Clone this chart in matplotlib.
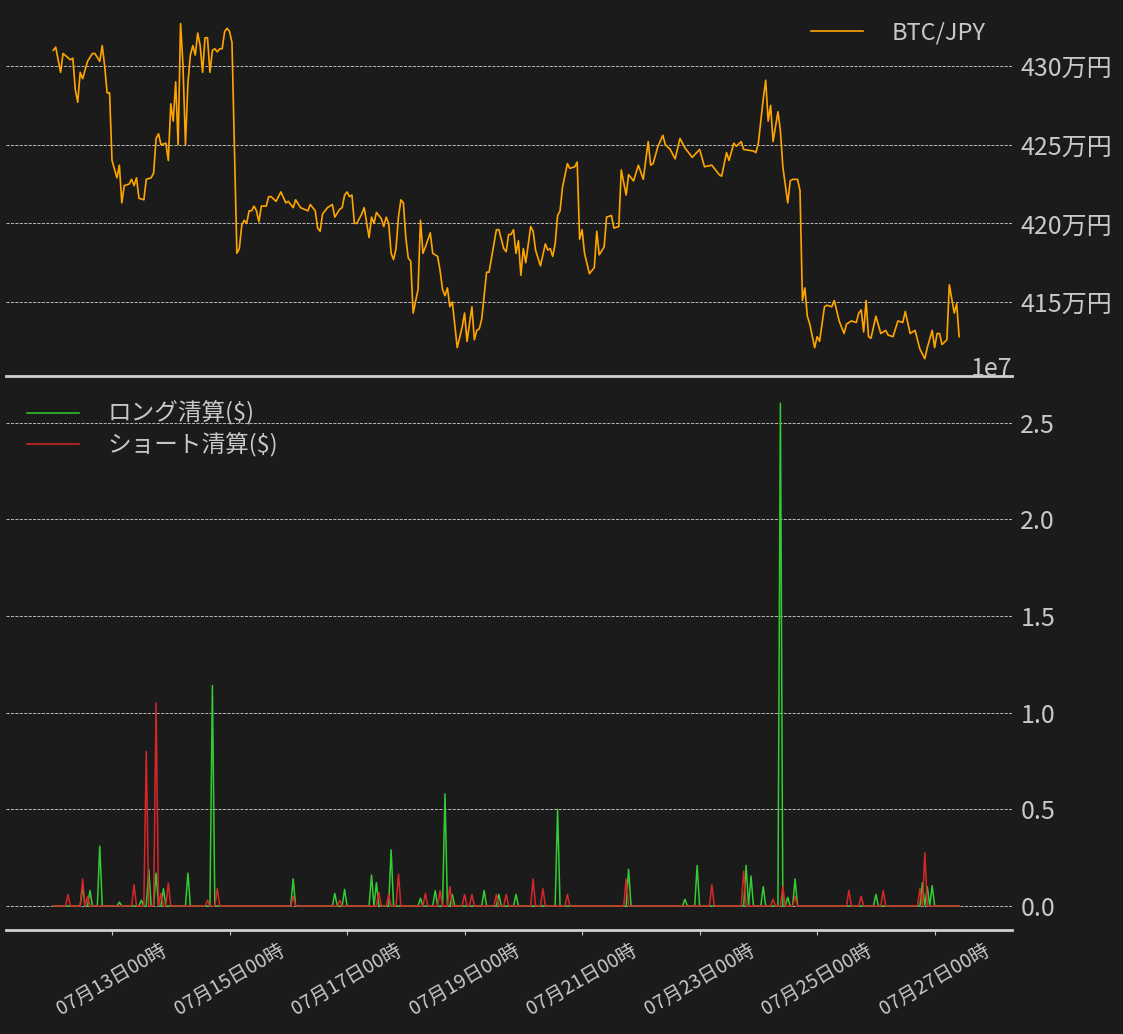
import datetime as dt
import numpy as np
import matplotlib
matplotlib.use('Agg')
import matplotlib.pyplot as plt
import matplotlib.dates as mdates
from matplotlib.ticker import FuncFormatter

plt.rcParams['font.family'] = ['Noto Sans CJK JP', 'DejaVu Sans']

base = dt.datetime(2023, 7, 13, 0, 0)

# BTC/JPY price: hours from 07/13 00:00, price in 万円
price_hours = [-24, -23, -21, -20, -17, -16, -15, -14, -13, -12, -10, -8, -7, -5, -4, -3, -2, -1,
               0, 2, 3, 4, 5, 7, 8, 9, 10, 11, 13, 14, 16, 17, 18, 19, 20, 22, 23, 24, 25, 26, 27,
               28, 29, 30, 31, 32, 33, 34, 35, 36, 37, 38, 39, 40, 41, 42, 43, 44, 45, 46, 47, 48,
               49, 50, 51, 52, 53, 54, 55, 56, 57, 58, 59, 60, 61, 63, 64, 65, 67, 69, 71, 72, 74,
               75, 77, 80, 81, 82, 83, 84, 85, 86, 88, 90, 91, 93, 94, 95, 96, 97, 98, 99, 100, 102,
               103, 105, 106, 107, 108, 110, 111, 112, 113, 114, 115, 116, 117, 118, 119, 120, 121,
               122, 123, 125, 126, 127, 128, 130, 131, 133, 134, 135, 136, 137, 138, 139, 141, 143,
               144, 145, 147, 148, 149, 150, 151, 153, 154, 157, 158, 160, 161, 162, 163, 164, 165,
               166, 167, 168, 169, 171, 172, 173, 175, 177, 178, 179, 180, 181, 182, 183, 184, 186,
               187, 189, 190, 191, 192, 193, 195, 197, 198, 199, 201, 202, 204, 205, 207, 208, 210,
               211, 213, 215, 217, 219, 220, 221, 223, 225, 226, 228, 230, 232, 234, 237, 240, 242,
               245, 248, 249, 251, 252, 254, 255, 257, 258, 262, 263, 264, 266, 267, 268, 269, 270,
               272, 273, 274, 276, 277, 278, 280, 281, 282, 283, 284, 285, 287, 288, 289, 291, 292,
               294, 295, 297, 299, 300, 302, 304, 305, 306, 307, 308, 309, 310, 312, 314, 316, 317,
               319, 321, 323, 324, 326, 328, 330, 332, 333, 335, 336, 337, 338, 339, 341, 342, 344,
               345, 346]
price_man = [431.0, 431.2, 429.6, 430.8, 430.4, 430.5, 428.5, 427.7, 429.6, 429.2, 430.3, 430.8,
             430.8, 430.3, 431.3, 430.0, 428.3, 428.3, 424.0, 422.9, 423.7, 421.3, 422.4, 422.5,
             422.8, 422.4, 422.9, 421.6, 421.5, 422.8, 422.9, 423.2, 425.4, 425.7, 425.0, 425.1,
             424.0, 427.6, 426.5, 429.0, 425.0, 432.7, 430.0, 425.0, 428.9, 430.7, 431.3, 430.7,
             432.1, 431.3, 429.6, 431.8, 431.8, 429.6, 431.0, 431.1, 430.9, 431.1, 431.1, 432.2,
             432.4, 432.2, 431.5, 424.7, 418.1, 418.4, 419.9, 420.2, 420.0, 420.8, 420.8, 421.1,
             420.8, 420.1, 421.1, 421.1, 421.7, 421.7, 421.4, 422.0, 421.3, 421.4, 421.0, 421.5,
             421.0, 420.8, 421.2, 421.0, 420.8, 419.7, 419.5, 420.6, 421.0, 421.2, 420.4, 420.9,
             421.0, 421.8, 422.0, 421.7, 421.8, 420.0, 420.0, 420.6, 421.0, 419.1, 420.4, 420.0,
             420.7, 420.3, 419.8, 420.4, 420.0, 418.1, 417.7, 418.4, 420.4, 421.5, 421.3, 419.1,
             417.8, 417.6, 414.3, 415.8, 420.2, 418.1, 418.5, 419.4, 418.1, 417.9, 417.0, 415.8,
             415.4, 415.9, 414.7, 415.0, 412.1, 413.4, 414.3, 412.5, 414.7, 412.6, 413.2, 413.3,
             413.9, 416.9, 416.9, 419.6, 419.6, 418.4, 418.2, 419.3, 419.3, 419.6, 418.1, 418.9,
             416.7, 418.4, 417.5, 419.8, 419.5, 418.3, 417.3, 418.7, 418.3, 418.4, 417.9, 418.7,
             420.5, 420.8, 422.3, 423.8, 423.5, 423.6, 423.9, 419.0, 419.6, 418.1, 416.8, 417.2,
             419.5, 418.0, 418.5, 420.4, 420.5, 419.7, 419.8, 423.4, 421.8, 423.1, 422.7, 423.7,
             422.8, 425.2, 423.7, 423.8, 424.9, 425.6, 425.0, 424.7, 424.1, 425.4, 424.8, 424.2,
             424.7, 423.6, 423.7, 423.1, 423.0, 424.5, 424.0, 425.1, 424.9, 425.2, 424.7, 424.6,
             424.5, 425.1, 427.9, 429.1, 426.5, 427.5, 425.2, 427.1, 425.9, 423.6, 421.3, 422.7,
             422.8, 422.8, 422.1, 415.1, 415.9, 414.1, 413.6, 412.1, 412.8, 412.5, 414.7, 414.8,
             414.7, 415.1, 413.8, 413.0, 413.6, 413.8, 413.7, 414.3, 414.5, 413.1, 415.1, 412.8,
             412.7, 414.1, 413.0, 413.2, 412.9, 412.8, 413.8, 413.7, 414.4, 413.0, 413.2, 412.0,
             411.4, 412.1, 413.2, 412.1, 413.0, 413.0, 412.3, 412.6, 416.1, 414.3, 414.9, 412.8]

# liquidations (x1e7 $): spike hours and sizes, other hours ~0
long_hours = [-12, -9, -5, 3, 12, 15, 18, 21, 31, 41, 74, 91, 95, 106, 108, 114, 126, 132, 136,
              139, 152, 158, 165, 182, 211, 234, 239, 259, 261, 266, 273, 276, 279, 312, 331, 333, 335]
long_vals = [0.10, 0.08, 0.31, 0.02, 0.03, 0.19, 0.17, 0.09, 0.17, 1.14, 0.14, 0.065, 0.086, 0.16,
             0.12, 0.29, 0.04, 0.08, 0.58, 0.06, 0.08, 0.06, 0.06, 0.50, 0.19, 0.035, 0.21, 0.21,
             0.155, 0.10, 2.60, 0.045, 0.14, 0.06, 0.12, 0.10, 0.105]
short_hours = [-18, -12, -10, 9, 14, 18, 20, 23, 39, 43, 74, 93, 109, 113, 117, 128, 134, 138, 144,
               147, 157, 161, 172, 176, 186, 210, 245, 258, 270, 274, 279, 301, 306, 315, 330, 332]
short_vals = [0.06, 0.14, 0.05, 0.11, 0.80, 1.05, 0.065, 0.12, 0.03, 0.09, 0.05, 0.03, 0.07, 0.06,
              0.165, 0.065, 0.08, 0.10, 0.06, 0.06, 0.06, 0.06, 0.14, 0.09, 0.06, 0.14, 0.11, 0.18,
              0.035, 0.10, 0.05, 0.08, 0.05, 0.08, 0.09, 0.275]

bg = '#1b1b1b'
fg = '#c8c8c8'

hours = np.arange(-24, 347)
t_all = [base + dt.timedelta(hours=int(h)) for h in hours]
long_s = np.zeros(len(hours))
short_s = np.zeros(len(hours))
for h, v in zip(long_hours, long_vals):
    long_s[h + 24] = v * 1e7
for h, v in zip(short_hours, short_vals):
    short_s[h + 24] = v * 1e7

t_price = [base + dt.timedelta(hours=h) for h in price_hours]
price = np.array(price_man) * 1e4

fig = plt.figure(figsize=(11.23, 10.34), dpi=100, facecolor=bg)
W, H = 1123.0, 1034.0
ax1 = fig.add_axes([6 / W, 1 - 376 / H, 1006 / W, 376 / H])
ax2 = fig.add_axes([6 / W, 1 - 930 / H, 1006 / W, 550 / H])

xmin = base + dt.timedelta(hours=-43.3)
xmax = base + dt.timedelta(hours=367.6)

for ax in (ax1, ax2):
    ax.set_facecolor(bg)
    for s in ('top', 'left', 'right'):
        ax.spines[s].set_visible(False)
    ax.spines['bottom'].set_color('#d0d0d0')
    ax.spines['bottom'].set_linewidth(2)
    ax.yaxis.tick_right()
    ax.tick_params(axis='y', length=0, colors=fg, labelsize=18, pad=6)
    ax.tick_params(axis='x', colors=fg, labelsize=14)
    ax.grid(axis='y', color='#d0d0d0', linestyle='--', linewidth=0.6)
    ax.set_xlim(xmin, xmax)

ax1.plot(t_price, price, color='#FFA500', linewidth=1.2, label='BTC/JPY')
ax1.set_ylim(410.3e4, 434.2e4)
ax1.set_yticks([415e4, 420e4, 425e4, 430e4])
ax1.yaxis.set_major_formatter(FuncFormatter(lambda v, p: '%d万円' % round(v / 1e4)))
ax1.set_xticks([])
ax1.legend(loc='upper right', frameon=False, fontsize=17, labelcolor=fg,
           handlelength=2.2, handletextpad=1.2, bbox_to_anchor=(0.995, 1.0))

ax2.plot(t_all, long_s, color='#33cc33', linewidth=1.1, label='ロング清算($)')
ax2.plot(t_all, short_s, color='#d62728', linewidth=1.1, label='ショート清算($)')
ax2.set_ylim(-0.124e7, 2.72e7)
ax2.set_yticks([0, 0.5e7, 1.0e7, 1.5e7, 2.0e7, 2.5e7])
ax2.yaxis.get_offset_text().set_color(fg)
ax2.yaxis.get_offset_text().set_fontsize(18)
ax2.xaxis.set_major_locator(mdates.DayLocator(bymonthday=[13, 15, 17, 19, 21, 23, 25, 27]))
ax2.xaxis.set_major_formatter(mdates.DateFormatter('%m月%d日%H時'))
plt.setp(ax2.get_xticklabels(), rotation=30)
ax2.legend(loc='upper left', frameon=False, fontsize=17, labelcolor=fg,
           handlelength=2.2, handletextpad=1.2, labelspacing=0.3, bbox_to_anchor=(0.0, 1.0))

fig.savefig('out.png', facecolor=bg)
